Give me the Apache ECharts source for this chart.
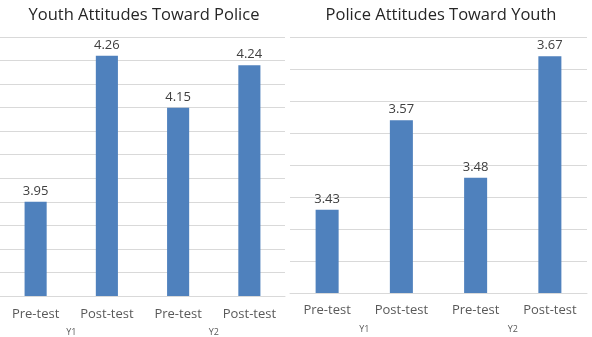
<!DOCTYPE html>
<html>
<head>
<meta charset="utf-8">
<script src="https://cdn.jsdelivr.net/npm/echarts@6/dist/echarts.min.js"></script>
<style>
  html, body { margin: 0; padding: 0; background: #fff; }
  #chart { width: 592px; height: 337px; }
</style>
</head>
<body>
<div id="chart"></div>
<script>
// Survey scores, pre/post in two years
const categories = ['Pre-test', 'Post-test', 'Pre-test', 'Post-test'];
const yearLabels = ['Y1', 'Y2'];
const youthTowardPolice = [3.95, 4.26, 4.15, 4.24];
const policeTowardYouth = [3.43, 3.57, 3.48, 3.67];
const titles = ['Youth Attitudes Toward Police', 'Police Attitudes Toward Youth'];

const FONT = '"Open Sans", "Noto Sans", sans-serif';
const BAR = '#4f81bd';
const GRID_LINE = '#d9d9d9';

const chart = echarts.init(document.getElementById('chart'), null, { renderer: 'canvas' });

function catAxis(gridIndex, margin) {
  return {
    type: 'category', gridIndex: gridIndex, data: categories,
    axisLine: { show: true, lineStyle: { color: GRID_LINE, width: 1 } },
    axisTick: { show: false },
    axisLabel: { color: '#595959', fontSize: 13, fontFamily: FONT, margin: margin }
  };
}
function yearAxis(gridIndex, margin) {
  return {
    type: 'category', gridIndex: gridIndex, data: yearLabels, position: 'bottom',
    axisLine: { show: false }, axisTick: { show: false }, splitLine: { show: false },
    axisLabel: { color: '#595959', fontSize: 9, fontFamily: FONT, margin: margin }
  };
}
function valAxis(gridIndex, min, max) {
  return {
    type: 'value', gridIndex: gridIndex, min: min, max: max, interval: 0.05,
    axisLabel: { show: false }, axisLine: { show: false }, axisTick: { show: false },
    splitLine: { show: true, lineStyle: { color: GRID_LINE, width: 1 } }
  };
}
function barSeries(idx, data) {
  return {
    type: 'bar', xAxisIndex: idx * 2, yAxisIndex: idx, data: data,
    barWidth: '31%',
    itemStyle: { color: BAR },
    label: {
      show: true, position: 'top', distance: 4,
      color: '#404040', fontSize: 13, fontFamily: FONT,
      formatter: p => p.value.toFixed(2)
    },
    silent: true
  };
}

chart.setOption({
  animation: false,
  title: [
    { text: titles[0], left: 139, top: 2, textAlign: 'center',
      textStyle: { color: '#262626', fontSize: 16.5, fontWeight: 'normal', fontFamily: FONT } },
    { text: titles[1], left: 436, top: 2, textAlign: 'center',
      textStyle: { color: '#262626', fontSize: 16.5, fontWeight: 'normal', fontFamily: FONT } }
  ],
  grid: [
    { left: 0, top: 37, width: 285, height: 259 },
    { left: 290, top: 37, width: 297, height: 256 }
  ],
  xAxis: [
    catAxis(0, 12), yearAxis(0, 32),
    catAxis(1, 11), yearAxis(1, 32)
  ],
  yAxis: [
    valAxis(0, 3.75, 4.30),
    valAxis(1, 3.30, 3.70)
  ],
  series: [
    barSeries(0, youthTowardPolice),
    barSeries(1, policeTowardYouth)
  ]
});
</script>
</body>
</html>
